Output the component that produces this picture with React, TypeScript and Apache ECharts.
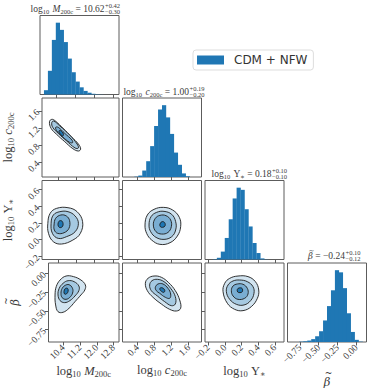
import React, { useEffect, useRef } from "react";
import * as echarts from "echarts";

// ---- axis ranges and ticks ----
const M_RANGE = [9.7, 13.06];
const C_RANGE = [0.05, 1.9];
const U_RANGE = [-0.24, 0.71];
const B_RANGE = [-0.915, 0.135];

const M_TICKS = [10.4, 11.2, 12.0, 12.8];
const C_TICKS = [0.4, 0.8, 1.2, 1.6];
const U_TICKS = [-0.2, 0.0, 0.2, 0.4, 0.6];
const B_TICKS = [-0.75, -0.5, -0.25, 0.0];

// ---- 1D histograms (20 bins over each range, peak-normalised counts) ----
const M_HIST = [0, 6, 33, 76, 100, 90, 73, 50, 31, 18, 10, 5, 2.5, 1, 0.5, 0.2, 0, 0, 0, 0];
const C_HIST = [0, 0, 0, 0.5, 2, 9, 22, 43, 71, 94, 100, 83, 60, 34, 17, 5, 1, 0, 0, 0];
const U_HIST = [0, 0, 0.5, 2.4, 11, 30, 56, 85, 100, 97, 70, 46, 23, 9, 1.5, 0.3, 0, 0, 0, 0];
const B_HIST = [0, 0, 0, 0.5, 1, 2, 4, 8, 15, 30, 50, 72, 100, 97, 75, 40, 14, 3, 0.5, 0];

// ---- 2D contours (outer -> inner), points as [x value, y value] ----
const CONT_C_M = [
  [[10.026, 1.345], [10.126, 1.4], [10.267, 1.369], [10.622, 1.189], [11.005, 0.979], [11.288, 0.822], [11.387, 0.705], [11.288, 0.658], [11.047, 0.713], [10.693, 0.877], [10.338, 1.049], [10.097, 1.189]],
  [[10.126, 1.322], [10.21, 1.361], [10.48, 1.244], [10.905, 1.033], [11.231, 0.822], [11.288, 0.729], [11.146, 0.729], [10.763, 0.9], [10.409, 1.072], [10.168, 1.213]],
  [[10.296, 1.213], [10.409, 1.213], [10.693, 1.072], [11.005, 0.916], [11.033, 0.854], [10.905, 0.862], [10.593, 0.994], [10.338, 1.135]],
  [[10.437, 1.127], [10.522, 1.135], [10.636, 1.057], [10.607, 1.01], [10.508, 1.049]],
];
const CONT_U_M = [
  [[9.955, 0.195], [10.055, 0.315], [10.338, 0.375], [10.834, 0.383], [11.231, 0.335], [11.472, 0.215], [11.373, 0.074], [11.047, -0.006], [10.551, -0.054], [10.196, -0.026], [9.984, 0.074]],
  [[10.097, 0.195], [10.196, 0.295], [10.48, 0.335], [10.834, 0.335], [11.146, 0.283], [11.288, 0.195], [11.146, 0.094], [10.764, 0.034], [10.409, 0.014], [10.154, 0.074]],
  [[10.225, 0.175], [10.296, 0.255], [10.522, 0.295], [10.764, 0.283], [10.905, 0.227], [10.877, 0.135], [10.664, 0.082], [10.381, 0.074], [10.239, 0.114]],
  [[10.409, 0.203], [10.48, 0.227], [10.593, 0.215], [10.607, 0.163], [10.494, 0.143], [10.409, 0.163]],
];
const CONT_U_C = [
  [[0.577, 0.175], [0.632, 0.295], [0.788, 0.363], [1.006, 0.387], [1.225, 0.355], [1.381, 0.267], [1.412, 0.155], [1.334, 0.042], [1.163, -0.038], [0.927, -0.058], [0.733, -0.006], [0.616, 0.074]],
  [[0.671, 0.175], [0.718, 0.275], [0.85, 0.327], [1.022, 0.339], [1.202, 0.303], [1.295, 0.215], [1.295, 0.115], [1.202, 0.034], [1.022, 0.002], [0.835, 0.026], [0.71, 0.094]],
  [[0.772, 0.175], [0.819, 0.255], [0.927, 0.291], [1.069, 0.287], [1.178, 0.235], [1.194, 0.155], [1.116, 0.086], [0.967, 0.066], [0.835, 0.094]],
  [[0.927, 0.187], [0.975, 0.215], [1.038, 0.203], [1.045, 0.163], [0.991, 0.147], [0.936, 0.155]],
];
const CONT_B_M = [
  [[10.012, -0.29], [10.069, -0.179], [10.253, -0.091], [10.537, -0.038], [10.891, -0.046], [11.245, -0.091], [11.458, -0.157], [11.43, -0.224], [11.245, -0.29], [10.962, -0.379], [10.678, -0.467], [10.395, -0.52], [10.154, -0.512], [10.04, -0.423]],
  [[10.154, -0.29], [10.21, -0.202], [10.395, -0.135], [10.636, -0.1], [10.919, -0.113], [11.146, -0.17], [11.146, -0.233], [10.962, -0.303], [10.721, -0.365], [10.466, -0.392], [10.253, -0.365]],
  [[10.295, -0.268], [10.352, -0.202], [10.494, -0.162], [10.678, -0.153], [10.82, -0.188], [10.863, -0.246], [10.749, -0.312], [10.537, -0.348], [10.352, -0.326]],
  [[10.437, -0.246], [10.494, -0.206], [10.607, -0.202], [10.636, -0.241], [10.551, -0.277], [10.466, -0.277]],
];
const CONT_B_C = [
  [[0.585, -0.135], [0.647, -0.069], [0.788, -0.038], [0.96, -0.055], [1.131, -0.126], [1.287, -0.233], [1.389, -0.357], [1.412, -0.467], [1.311, -0.503], [1.155, -0.481], [0.96, -0.41], [0.764, -0.321], [0.632, -0.233]],
  [[0.686, -0.157], [0.741, -0.1], [0.866, -0.082], [1.022, -0.113], [1.178, -0.202], [1.287, -0.312], [1.287, -0.41], [1.194, -0.432], [1.038, -0.379], [0.866, -0.303], [0.725, -0.233]],
  [[0.819, -0.188], [0.882, -0.144], [0.999, -0.144], [1.116, -0.202], [1.178, -0.277], [1.155, -0.334], [1.053, -0.321], [0.921, -0.268], [0.842, -0.233]],
  [[0.921, -0.206], [0.975, -0.193], [1.038, -0.224], [1.022, -0.255], [0.96, -0.241]],
];
const CONT_B_U = [
  [[-0.023, -0.246], [-0.003, -0.135], [0.057, -0.069], [0.157, -0.038], [0.277, -0.046], [0.366, -0.113], [0.406, -0.224], [0.39, -0.334], [0.317, -0.445], [0.217, -0.498], [0.117, -0.481], [0.029, -0.401]],
  [[0.017, -0.246], [0.037, -0.157], [0.097, -0.104], [0.177, -0.091], [0.269, -0.113], [0.337, -0.179], [0.349, -0.268], [0.309, -0.365], [0.229, -0.423], [0.137, -0.414], [0.057, -0.348]],
  [[0.077, -0.233], [0.097, -0.171], [0.149, -0.144], [0.217, -0.148], [0.269, -0.202], [0.277, -0.277], [0.237, -0.334], [0.157, -0.348], [0.097, -0.303]],
  [[0.149, -0.215], [0.169, -0.197], [0.205, -0.202], [0.209, -0.246], [0.181, -0.259], [0.153, -0.25]],
];

// ---- title numbers ----
const TITLE_VALUES = ["10.62", "1.00", "0.18", "\u22120.24"];
const TITLE_PLUS = ["+0.42", "+0.19", "+0.10", "+0.10"];
const TITLE_MINUS = ["\u22120.30", "\u22120.20", "\u22120.10", "\u22120.12"];
const LEGEND_LABEL = "CDM + NFW";

// ---- styling ----
const BLUE = "#1f77b4";
const FILLS = ["#d2e4f0", "#a5c9e1", "#79add2", "#1f77b4"];
const SERIF = "'Liberation Serif', 'DejaVu Serif', serif";
const DVSERIF = "'DejaVu Serif', serif";
const TEXT = "#3a3a3a";
const FRAME = "#5c5c5c";
const COL_LEFT = [40, 122.5, 205, 287.5];
const ROW_TOP = [15.5, 98, 180.5, 263];
const SIZE = 79;

const fmt = (dec: number) => (v: number) => {
  const s = Math.abs(v).toFixed(dec);
  return v < -1e-9 ? "\u2212" + s : s;
};

function textWidth(str: string, font: string): number {
  const ctx = document.createElement("canvas").getContext("2d");
  if (!ctx) return str.length * 5;
  ctx.font = font;
  return ctx.measureText(str).width;
}

const VARS = [
  { range: M_RANGE, ticks: M_TICKS, dec: 1, hist: M_HIST, name: "{r|log}{s|10} {i|M}{s|200c}" },
  { range: C_RANGE, ticks: C_TICKS, dec: 1, hist: C_HIST, name: "{r|log}{s|10} {i|c}{s|200c}" },
  { range: U_RANGE, ticks: U_TICKS, dec: 1, hist: U_HIST, name: "{r|log}{s|10} {r|\u03A5}{s|\u2217}" },
  { range: B_RANGE, ticks: B_TICKS, dec: 2, hist: B_HIST, name: "{t|~}\n{b|\u03B2}" },
];

const CONTOURS: Record<string, number[][][]> = {
  "1-0": CONT_C_M,
  "2-0": CONT_U_M,
  "2-1": CONT_U_C,
  "3-0": CONT_B_M,
  "3-1": CONT_B_C,
  "3-2": CONT_B_U,
};

const nameRich = {
  r: { fontFamily: SERIF, fontSize: 12.5, color: TEXT, lineHeight: 15 },
  i: { fontFamily: SERIF, fontStyle: "italic", fontSize: 12.5, color: TEXT, lineHeight: 15 },
  b: { fontFamily: DVSERIF, fontStyle: "italic", fontSize: 11.5, color: TEXT, lineHeight: 14 },
  t: { fontFamily: DVSERIF, fontSize: 9, color: TEXT, lineHeight: 4, padding: [0, 0, 0, 3] },
  s: { fontFamily: SERIF, fontSize: 8.5, color: TEXT, lineHeight: 8, verticalAlign: "bottom" },
};

const titleRich = {
  r: { fontFamily: SERIF, fontSize: 9.5, fill: TEXT, lineHeight: 12 },
  i: { fontFamily: SERIF, fontStyle: "italic", fontSize: 9.5, fill: TEXT, lineHeight: 12 },
  b: { fontFamily: DVSERIF, fontStyle: "italic", fontSize: 8.5, fill: TEXT, lineHeight: 12 },
  s: { fontFamily: SERIF, fontSize: 6.5, fill: TEXT, lineHeight: 6, verticalAlign: "bottom" },
};

const TITLE_HEADS = [
  "{r|log}{s|10} {i|M}{s|200c}{r| = }",
  "{r|log}{s|10} {i|c}{s|200c}{r| = }",
  "{r|log}{s|10} {r|\u03A5}{s|\u2217}{r| = }",
  "{b|\u03B2}{r| = }",
];
const TITLE_POS = [
  [104.5, 9],
  [189, 91.5],
  [271.5, 173.5],
  [345, 256],
];

function buildOption() {
  const grid: any[] = [];
  const xAxis: any[] = [];
  const yAxis: any[] = [];
  const series: any[] = [];
  let gi = 0;
  for (let r = 0; r < 4; r++) {
    for (let c = 0; c <= r; c++) {
      const vx = VARS[c];
      const vy = VARS[r];
      grid.push({
        left: COL_LEFT[c],
        top: ROW_TOP[r],
        width: SIZE,
        height: SIZE,
        show: true,
        borderColor: FRAME,
        borderWidth: 1,
        backgroundColor: "transparent",
        containLabel: false,
      });
      xAxis.push({
        gridIndex: gi,
        type: "value",
        position: "bottom",
        min: vx.range[0],
        max: vx.range[1],
        axisLine: { show: false, onZero: false },
        splitLine: { show: false },
        axisTick: { show: true, length: 3.5, lineStyle: { color: FRAME, width: 1 }, customValues: vx.ticks },
        axisLabel: {
          show: r === 3,
          customValues: vx.ticks,
          rotate: 45,
          formatter: fmt(vx.dec),
          fontFamily: SERIF,
          fontSize: 9.5,
          color: TEXT,
          margin: 4,
        },
        name: r === 3 ? vx.name : "",
        nameLocation: "middle",
        nameGap: c === 3 ? 19 : 20,
        nameTextStyle: { rich: nameRich },
      });
      if (r === c) {
        yAxis.push({ gridIndex: gi, type: "value", min: 0, max: 110, show: false, axisLine: { onZero: false } });
        const w = (vx.range[1] - vx.range[0]) / vx.hist.length;
        series.push({
          type: "custom",
          name: LEGEND_LABEL,
          coordinateSystem: "cartesian2d",
          xAxisIndex: gi,
          yAxisIndex: gi,
          silent: true,
          itemStyle: { color: BLUE },
          encode: { x: [0, 1], y: 2 },
          data: vx.hist.map((v, i) => [vx.range[0] + i * w, vx.range[0] + (i + 1) * w, v]),
          renderItem: (params: any, api: any) => {
            const p0 = api.coord([api.value(0), api.value(2)]);
            const p1 = api.coord([api.value(1), 0]);
            return {
              type: "rect",
              shape: { x: p0[0], y: p0[1], width: p1[0] - p0[0] + 0.25, height: p1[1] - p0[1] },
              style: { fill: BLUE },
            };
          },
        });
      } else {
        yAxis.push({
          gridIndex: gi,
          type: "value",
          position: "left",
          min: vy.range[0],
          max: vy.range[1],
          axisLine: { show: false, onZero: false },
          splitLine: { show: false },
          axisTick: { show: true, length: 3.5, lineStyle: { color: FRAME, width: 1 }, customValues: vy.ticks },
          axisLabel: {
            show: c === 0,
            customValues: vy.ticks,
            rotate: 45,
            formatter: fmt(vy.dec),
            fontFamily: SERIF,
            fontSize: 9.5,
            color: TEXT,
            margin: 4,
          },
          name: c === 0 ? vy.name : "",
          nameLocation: "middle",
          nameRotate: 90,
          nameGap: 27,
          nameTextStyle: { rich: nameRich },
        });
        const cont = CONTOURS[r + "-" + c];
        series.push({
          type: "custom",
          name: "contours " + r + "-" + c,
          coordinateSystem: "cartesian2d",
          xAxisIndex: gi,
          yAxisIndex: gi,
          silent: true,
          data: cont.map((poly, i) => [poly[0][0], poly[0][1], i]),
          renderItem: (params: any, api: any) => {
            const poly = cont[params.dataIndex];
            return {
              type: "polygon",
              shape: { points: poly.map((p) => api.coord(p)), smooth: 0.4 },
              style: { fill: FILLS[params.dataIndex], stroke: "#1c1c1c", lineWidth: 0.9 },
            };
          },
        });
      }
      gi++;
    }
  }

  const graphic: any[] = [];
  for (let k = 0; k < 4; k++) {
    const [x0, y0] = TITLE_POS[k];
    graphic.push({
      type: "text",
      x: x0,
      y: y0,
      silent: true,
      style: {
        text: TITLE_HEADS[k] + "{r|" + TITLE_VALUES[k] + "}",
        rich: titleRich,
        align: "right",
        verticalAlign: "middle",
        textAlign: "right",
        textVerticalAlign: "middle",
        fill: TEXT,
      },
    });
    graphic.push({
      type: "text",
      x: x0 + 0.5,
      y: y0 - 3.5,
      silent: true,
      style: {
        text: TITLE_PLUS[k],
        fontFamily: SERIF,
        fontSize: 6.5,
        fill: TEXT,
        align: "left",
        verticalAlign: "middle",
        textAlign: "left",
        textVerticalAlign: "middle",
      },
    });
    graphic.push({
      type: "text",
      x: x0 + 0.5,
      y: y0 + 2.5,
      silent: true,
      style: {
        text: TITLE_MINUS[k],
        fontFamily: SERIF,
        fontSize: 6.5,
        fill: TEXT,
        align: "left",
        verticalAlign: "middle",
        textAlign: "left",
        textVerticalAlign: "middle",
      },
    });
  }
  // tilde accent over the beta of the last title
  {
    const [x0, y0] = TITLE_POS[3];
    const restW = textWidth(" = " + TITLE_VALUES[3], "9.5px 'Liberation Serif'");
    const betaW = textWidth("\u03B2", "italic 8.5px 'DejaVu Serif'");
    graphic.push({
      type: "text",
      x: x0 - restW - betaW / 2 + 1,
      y: y0 - 5.5,
      silent: true,
      style: {
        text: "~",
        fontFamily: DVSERIF,
        fontSize: 7,
        fill: TEXT,
        align: "center",
        verticalAlign: "middle",
        textAlign: "center",
        textVerticalAlign: "middle",
      },
    });
  }

  return {
    animation: false,
    backgroundColor: "#ffffff",
    grid,
    xAxis,
    yAxis,
    series,
    graphic,
    legend: {
      show: true,
      data: [{ name: LEGEND_LABEL, icon: "rect" }],
      left: 193,
      top: 50,
      orient: "horizontal",
      itemWidth: 27,
      itemHeight: 9,
      padding: [4, 6, 4, 4],
      borderColor: "#d4d4d4",
      borderWidth: 0.8,
      borderRadius: 3,
      backgroundColor: "#ffffff",
      selectedMode: false,
      textStyle: { fontFamily: "'DejaVu Sans', sans-serif", fontSize: 12, color: "#333333", padding: [0, 0, 0, 5] },
    },
  };
}

export default function App() {
  const ref = useRef<HTMLDivElement>(null);
  useEffect(() => {
    if (!ref.current) return;
    const chart = echarts.init(ref.current, null, { renderer: "svg" });
    chart.setOption(buildOption() as any);
    return () => chart.dispose();
  }, []);
  return (
    <div
      ref={ref}
      style={{ position: "absolute", left: 0, top: 0, width: 374, height: 389, background: "#ffffff" }}
    />
  );
}
